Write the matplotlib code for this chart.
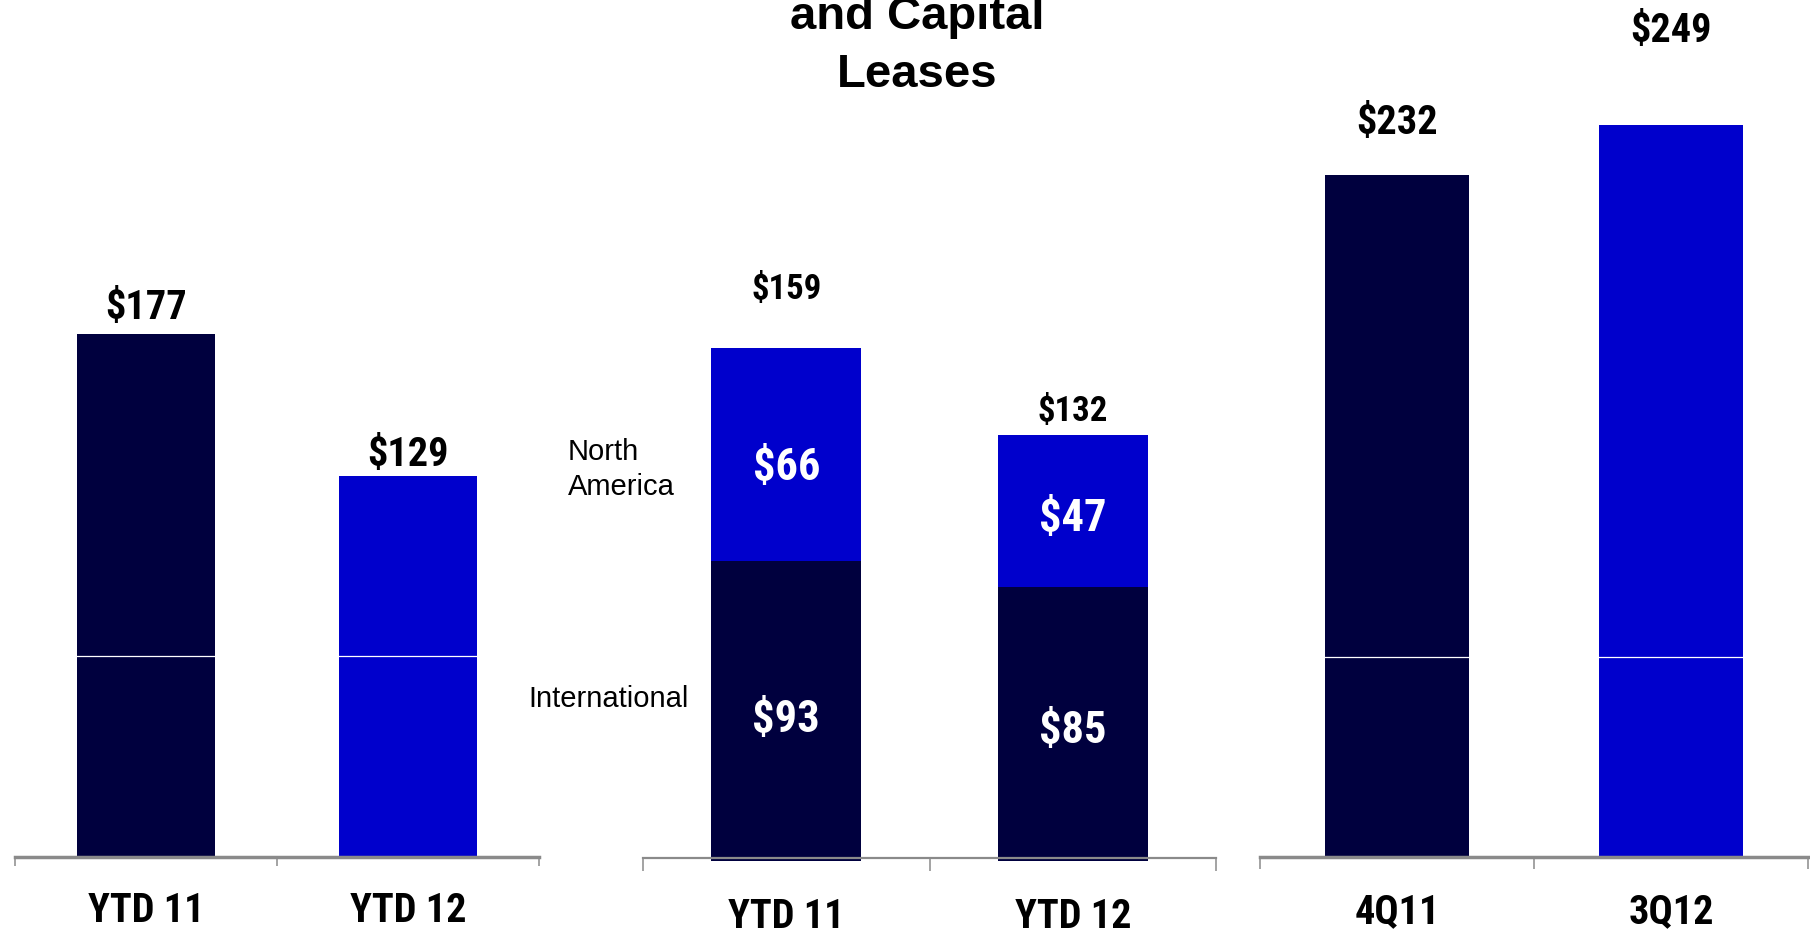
import matplotlib
matplotlib.use('Agg')
import matplotlib.pyplot as plt
from matplotlib import font_manager as fm

# ---------------- data ----------------
left_categories = ['YTD 11', 'YTD 12']
left_values = [177, 129]

mid_categories = ['YTD 11', 'YTD 12']
mid_international = [93, 85]
mid_north_america = [66, 47]

right_categories = ['4Q11', '3Q12']
right_values = [232, 249]

segment_names = ['North\nAmerica', 'International']
title_lines = ['and Capital', 'Leases']
white_rule_value = 68

# ---------------- style ----------------
NAVY = '#00003E'
BLUE = '#0000CC'
GREY = '#8a8a8a'
W, H = 1810, 931
PX = 0.72  # points per pixel at dpi 100

available = {f.name for f in fm.fontManager.ttflist}
narrow = None
for cand in ['Liberation Sans Narrow', 'Arial Narrow', 'Roboto Condensed',
             'DejaVu Sans Condensed', 'Open Sans Condensed']:
    if cand in available:
        narrow = cand
        break
if narrow:
    NFONT = narrow
    k = 1.0
else:
    NFONT = 'Liberation Sans'
    k = 0.84

fig = plt.figure(figsize=(W / 100, H / 100), dpi=100)


def make_axes(left, right, base_y, px_per_unit, spine_w, tick_len):
    ax = fig.add_axes([left / W, (H - base_y) / H, (right - left) / W, base_y / H])
    ax.set_xlim(-0.5, 1.5)
    ax.set_ylim(0, base_y / px_per_unit)
    for s in ['top', 'left', 'right']:
        ax.spines[s].set_visible(False)
    ax.spines['bottom'].set_color(GREY)
    ax.spines['bottom'].set_linewidth(spine_w)
    ax.set_yticks([])
    ax.set_xticks([-0.5, 0.5, 1.5])
    ax.set_xticklabels([])
    ax.tick_params(axis='x', direction='out', length=tick_len * PX, width=1.1,
                   color=GREY)
    ax.patch.set_visible(False)
    return ax


def cat_labels(ax, cats, below_px):
    for i, c in enumerate(cats):
        ax.annotate(c, xy=(i, 0), xycoords=('data', 'axes fraction'),
                    xytext=(0, -below_px * PX), textcoords='offset points',
                    ha='center', va='baseline', fontsize=29 * k,
                    fontweight='bold', family=NFONT, color='black')


def top_labels(ax, values, above_px, size):
    for i, v in enumerate(values):
        ax.annotate(f'${v}', xy=(i, v), xytext=(0, above_px[i] * PX),
                    textcoords='offset points', ha='center', va='baseline',
                    fontsize=size * k, fontweight='bold', family=NFONT,
                    color='black')


# ---- left panel ----
ax1 = make_axes(15, 539, 857, 2.953, 2.5, 9)
ax1.bar(range(len(left_values)), left_values, width=0.527,
        color=[NAVY, BLUE], zorder=1)
ax1.axhline(white_rule_value, color='white', lw=0.9, zorder=1.5)
top_labels(ax1, left_values, [15, 9.6], 29)
cat_labels(ax1, left_categories, 65)

# ---- middle panel ----
ax2 = make_axes(643, 1216, 861, 3.226, 1.6, 13)
ax2.spines['bottom'].set_position(('data', 0.8))
x2 = range(len(mid_international))
ax2.bar(x2, mid_international, width=0.524, color=NAVY, zorder=1)
ax2.bar(x2, mid_north_america, bottom=mid_international, width=0.524,
        color=BLUE, zorder=1)
totals = [a + b for a, b in zip(mid_international, mid_north_america)]
top_labels(ax2, totals, [49, 14], 25)
intl_off = [20.8, 19.3]
na_off = [25.3, 19.8]
for i in x2:
    ax2.annotate(f'${mid_international[i]}', xy=(i, mid_international[i] / 2),
                 xytext=(0, -intl_off[i] * PX), textcoords='offset points',
                 ha='center', va='baseline', fontsize=32 * k,
                 fontweight='bold', family=NFONT, color='white')
    ax2.annotate(f'${mid_north_america[i]}',
                 xy=(i, mid_international[i] + mid_north_america[i] / 2),
                 xytext=(0, -na_off[i] * PX), textcoords='offset points',
                 ha='center', va='baseline', fontsize=32 * k,
                 fontweight='bold', family=NFONT, color='white')
cat_labels(ax2, mid_categories, 67)

# ---- right panel ----
ax3 = make_axes(1260, 1808, 857, 2.94, 2.5, 12)
ax3.bar(range(len(right_values)), right_values, width=0.527,
        color=[NAVY, BLUE], zorder=1)
ax3.axhline(white_rule_value, color='white', lw=0.9, zorder=1.5)
top_labels(ax3, right_values, [41, 83], 29)
cat_labels(ax3, right_categories, 66)

# ---- segment names ----
na_lines = segment_names[0].split('\n')
fig.text(568 / W, 1 - 460 / H, na_lines[0], ha='left', va='baseline',
         fontsize=21, family='Liberation Sans', color='black')
fig.text(568 / W, 1 - 495 / H, na_lines[1], ha='left', va='baseline',
         fontsize=21, family='Liberation Sans', color='black')
fig.text(528 / W, 1 - 707 / H, segment_names[1], ha='left', va='baseline',
         fontsize=21, family='Liberation Sans', color='black')

# ---- title (partially cropped at the top) ----
fig.text(917 / W, 1 - 29 / H, title_lines[0], ha='center', va='baseline',
         fontsize=34, fontweight='bold', family='Liberation Sans')
fig.text(917 / W, 1 - 87 / H, title_lines[1], ha='center', va='baseline',
         fontsize=34, fontweight='bold', family='Liberation Sans')

fig.savefig('out.png', dpi=100, facecolor='white')
